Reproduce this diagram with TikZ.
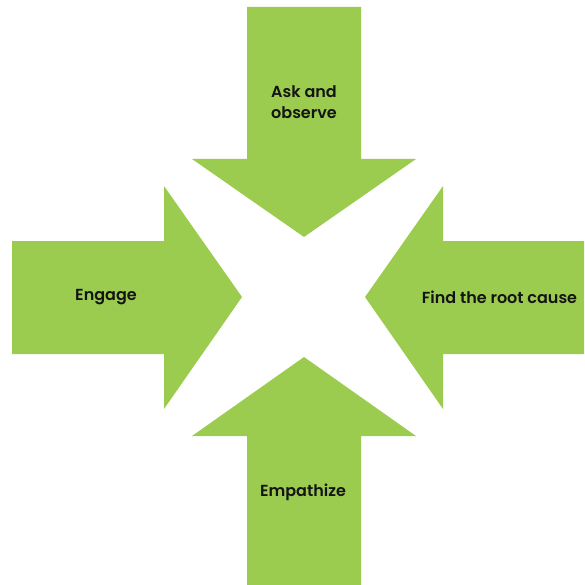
\documentclass[tikz,border=0pt]{standalone}
\usepackage{fontspec}
\setmainfont{Poppins}[BoldFont={* SemiBold}]
\definecolor{arrowgreen}{RGB}{155,204,80}
\begin{document}
\begin{tikzpicture}[x=1pt,y=-1pt,
  arrowshape/.style={fill=arrowgreen,draw=none},
  lbl/.style={font=\fontsize{16}{21}\selectfont\bfseries,text=black!92,align=center,inner sep=0pt}]
\useasboundingbox (0,0) rectangle (584,585);
% top arrow (down)
\fill[arrowshape] (247,7) -- (361,7) -- (361,159) -- (416,159) -- (304,237) -- (192,159) -- (247,159) -- cycle;
% bottom arrow (up)
\fill[arrowshape] (247,585) -- (361,585) -- (361,436) -- (416,436) -- (304,357) -- (192,436) -- (247,436) -- cycle;
% left arrow (right)
\fill[arrowshape] (12,241) -- (164,241) -- (164,186) -- (242,297) -- (164,409) -- (164,354) -- (12,354) -- cycle;
% right arrow (left)
\fill[arrowshape] (584,241) -- (443,241) -- (443,186) -- (365,297) -- (443,409) -- (443,354) -- (584,354) -- cycle;
\node[lbl] (ask) at (304,102) {Ask and\\observe};
\node[lbl] (engage) at (106,297) {Engage};
\node[lbl] (root) at (499.5,297) {Find the root cause};
\node[lbl] (emp) at (303,492) {Empathize};
\end{tikzpicture}
\end{document}
